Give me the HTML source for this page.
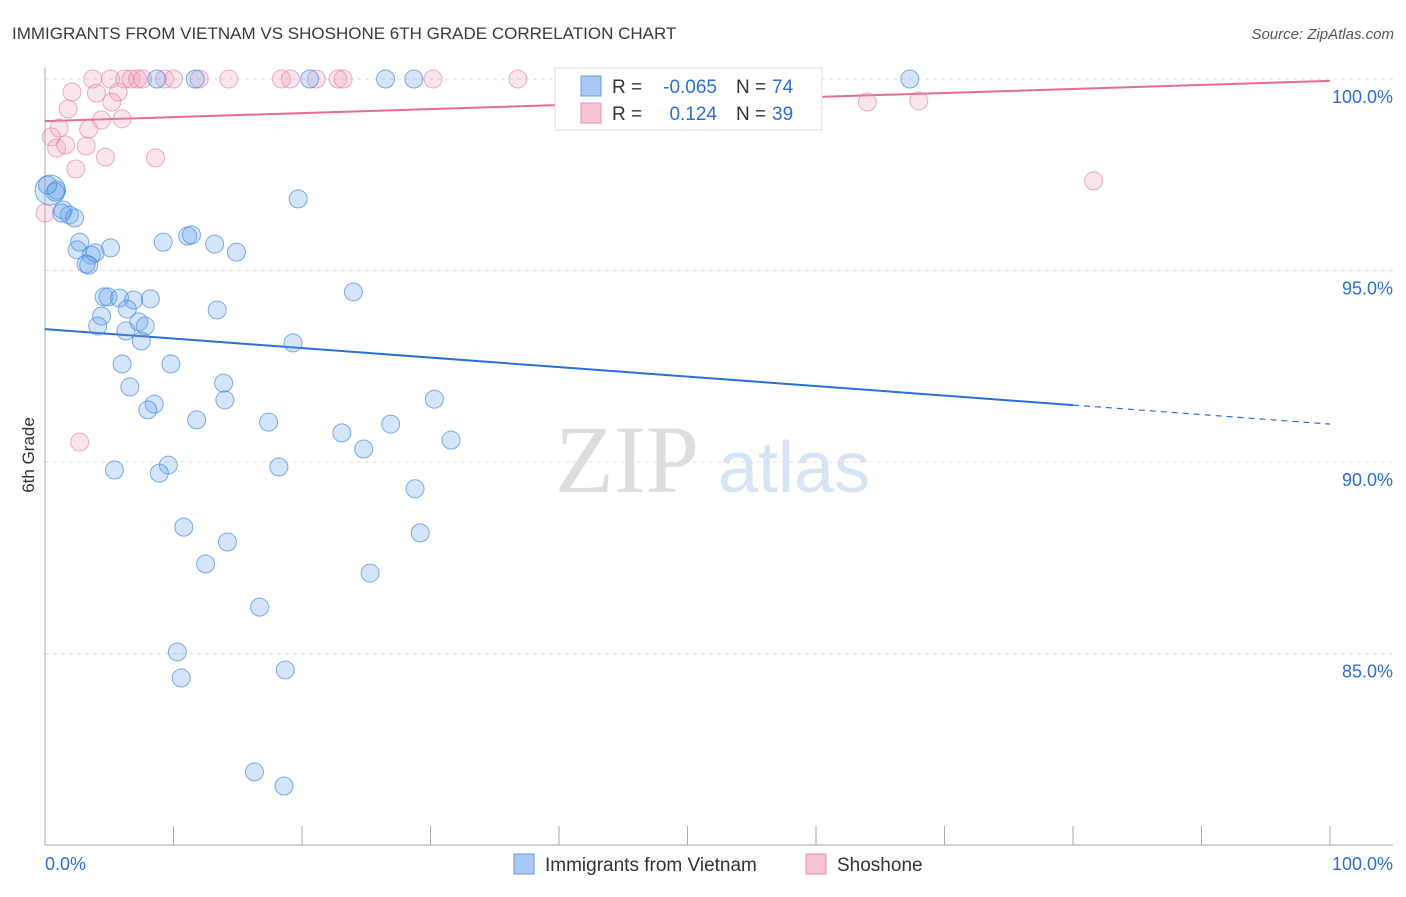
<!DOCTYPE html>
<html><head><meta charset="utf-8"><style>
body{margin:0;background:#fff;font-family:"Liberation Sans",sans-serif;}
</style></head><body>
<svg id="c" width="1406" height="892" xmlns="http://www.w3.org/2000/svg" font-family="Liberation Sans, sans-serif">
<text x="12" y="39" font-size="17" fill="#3a3a3a">IMMIGRANTS FROM VIETNAM VS SHOSHONE 6TH GRADE CORRELATION CHART</text>
<text x="1394" y="39" font-size="15" fill="#555" font-style="italic" text-anchor="end">Source: ZipAtlas.com</text>
<text x="34" y="455" font-size="17" fill="#333" text-anchor="middle" transform="rotate(-90 34 455)">6th Grade</text>
<text x="555" y="492" font-size="96" fill="#ddd" font-family="Liberation Serif, serif">ZIP</text>
<text x="718" y="492" font-size="72" fill="#d6e4f5">atlas</text>
<g id="grid"></g><g id="lines"></g><g id="pts"></g>
<g>
<rect x="555" y="68" width="267" height="62" fill="#fff" stroke="#ddd"/>
<rect x="581" y="76" width="20" height="20" fill="#aac8f5" stroke="#6a9ee0"/>
<text x="612" y="93" font-size="19" fill="#333">R =</text>
<text x="717" y="93" font-size="19" fill="#2a6fd6" text-anchor="end">-0.065</text>
<text x="736" y="93" font-size="19" fill="#333">N =</text>
<text x="772" y="93" font-size="19" fill="#2a6fd6">74</text>
<rect x="581" y="103" width="20" height="20" fill="#f8c4d4" stroke="#e890aa"/>
<text x="612" y="120" font-size="19" fill="#333">R =</text>
<text x="717" y="120" font-size="19" fill="#2a6fd6" text-anchor="end">0.124</text>
<text x="736" y="120" font-size="19" fill="#333">N =</text>
<text x="772" y="120" font-size="19" fill="#2a6fd6">39</text>
</g>
<g>
<rect x="514" y="854" width="20" height="20" fill="#aac8f5" stroke="#6a9ee0"/>
<text x="545" y="871" font-size="19" fill="#333">Immigrants from Vietnam</text>
<rect x="806" y="854" width="20" height="20" fill="#f8c4d4" stroke="#e890aa"/>
<text x="837" y="871" font-size="19" fill="#333">Shoshone</text>
</g>
<text x="45" y="870" font-size="18" fill="#2a6fd6">0.0%</text>
<text x="1393" y="870" font-size="18" fill="#2a6fd6" text-anchor="end">100.0%</text>
</svg>
<script>
const yTicks=[100,95,90,85];
const yTickLabels=["100.0%","95.0%","90.0%","85.0%"];
const blueX=[8.7,11.7,20.6,26.5,28.7,43.2,67.3,0.4,0.9,0.8,0.2,1.4,1.9,2.3,1.3,19.7,2.7,9.2,11.1,11.4,13.2,14.9,2.5,3.9,5.1,3.6,3.2,3.4,4.6,4.9,5.8,6.9,8.2,24.0,13.4,4.4,6.4,7.3,4.1,6.3,7.8,7.5,19.3,6.0,9.8,6.6,13.9,8.5,8.0,14.0,30.3,11.8,17.4,26.9,23.1,31.6,24.8,5.4,9.6,8.9,18.2,28.8,10.8,14.2,29.2,12.5,25.3,16.7,10.3,18.7,10.6,16.3,18.6];
const blueY=[100,100,100,100,100,100,100,97.1,97.1,97.05,97.23,96.58,96.45,96.37,96.5,96.87,95.74,95.74,95.9,95.93,95.69,95.48,95.54,95.46,95.59,95.4,95.17,95.14,94.31,94.31,94.28,94.23,94.26,94.44,93.97,93.81,93.99,93.66,93.55,93.42,93.55,93.16,93.11,92.56,92.56,91.96,92.06,91.51,91.36,91.62,91.64,91.1,91.04,90.99,90.76,90.57,90.34,89.79,89.92,89.71,89.87,89.3,88.3,87.91,88.15,87.34,87.1,86.21,85.04,84.57,84.36,81.91,81.54];
const pinkX=[3.7,5.1,6.2,6.7,7.2,7.6,9.3,10.0,12.0,14.3,18.4,19.1,21.1,22.8,23.2,30.2,36.8,2.1,4.0,5.7,5.2,1.8,6.0,4.4,1.1,3.4,0.5,0.9,3.2,1.6,4.7,8.6,2.4,0,2.7,64.0,68.0,81.6];
const pinkY=[100,100,100,100,100,100,100,100,100,100,100,100,100,100,100,100,100,99.66,99.63,99.66,99.4,99.22,98.96,98.93,98.72,98.69,98.49,98.2,98.25,98.28,97.96,97.94,97.65,96.5,90.52,99.4,99.43,97.34];
const blueTrend=[93.47,90.99];
const pinkTrend=[98.90,99.95];
const X=v=>45+v*12.85, Y=v=>79+(100-v)*38.3;
const NS="http://www.w3.org/2000/svg";
function mk(t,a,p){const e=document.createElementNS(NS,t);for(const k in a)e.setAttribute(k,a[k]);p.appendChild(e);return e;}
const g=document.getElementById('grid');
yTicks.forEach((t,i)=>{
 const l=mk('line',{x1:45,x2:1393,y1:Y(t),y2:Y(t),stroke:'#ddd','stroke-dasharray':'4 4'},g);
 
 
 const tx=mk('text',{x:1393,y:Y(t)+24,'font-size':18,fill:'#2a6fd6','text-anchor':'end'},g);
 tx.textContent=yTickLabels[i];
 
 
});
const ax=mk('line',{x1:45,x2:45,y1:68,y2:845,stroke:'#aaa'},g);


const bx=mk('line',{x1:45,x2:1393,y1:845,y2:845,stroke:'#aaa'},g);


for(let i=0;i<=10;i++){const t=mk('line',{x1:X(i*10),x2:X(i*10),y1:826,y2:845,stroke:'#aaa'},g);
 
 }
const p=document.getElementById('pts');
pinkX.forEach((x,i)=>{const c=mk('circle',{cx:X(x),cy:Y(pinkY[i]),r:9,fill:'rgba(240,150,180,0.25)',stroke:'rgba(230,120,160,0.6)','stroke-width':1},p);
 
 });
blueX.forEach((x,i)=>{const c=mk('circle',{cx:X(x),cy:Y(blueY[i]),r:i==7?15:9,fill:'rgba(100,160,235,0.28)',stroke:'rgba(60,130,220,0.65)','stroke-width':1},p);
 
 });
const L=document.getElementById('lines');
const by=x=>blueTrend[0]+(blueTrend[1]-blueTrend[0])*x/100;
const b1=mk('line',{x1:X(0),y1:Y(by(0)),x2:X(80),y2:Y(by(80)),stroke:'#2a6fd6','stroke-width':2},L);


const b2=mk('line',{x1:X(80),y1:Y(by(80)),x2:X(100),y2:Y(by(100)),stroke:'#2a6fd6','stroke-width':1.2,'stroke-dasharray':'6 5'},L);


const pl=mk('line',{x1:X(0),y1:Y(pinkTrend[0]),x2:X(100),y2:Y(pinkTrend[1]),stroke:'#e86b93','stroke-width':2},L);


</script>
</body></html>
